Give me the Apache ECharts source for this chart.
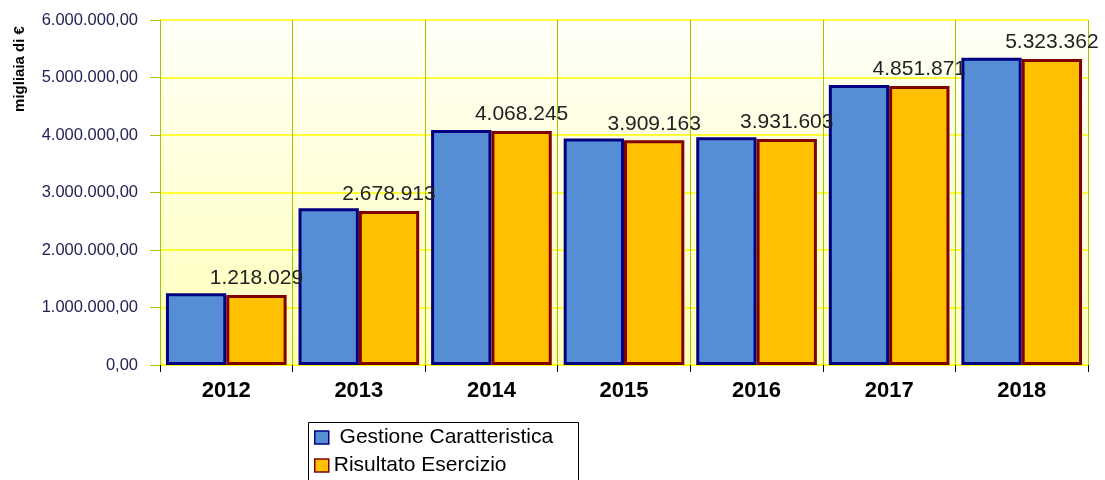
<!DOCTYPE html>
<html lang="it">
<head>
    <meta charset="UTF-8">
    <title>Gestione Caratteristica / Risultato Esercizio</title>
    <script src="https://cdn.jsdelivr.net/npm/echarts@6/dist/echarts.min.js"></script>
    <style>
        body { margin: 0; padding: 0; background: #fff; }
        #chart { width: 1105px; height: 480px; }
    </style>
</head>
<body>
    <div id="chart"></div>
    <script>
        // dati
        const anni = ['2012', '2013', '2014', '2015', '2016', '2017', '2018'];
        const gestione = [1248000, 2726000, 4085000, 3940000, 3960000, 4870000, 5345000];
        const risultato = [1218029, 2678913, 4068245, 3909163, 3931603, 4851871, 5323362];
        const nomiSerie = ['Gestione Caratteristica', 'Risultato Esercizio'];

        // formato italiano: 1.234.567
        function migliaia(v) {
            return String(Math.round(v)).replace(/\B(?=(\d{3})+(?!\d))/g, '.');
        }

        const chart = echarts.init(document.getElementById('chart'));
        const font = 'Liberation Sans, Arial, sans-serif';

        const option = {
            backgroundColor: '#fff',
            animation: false,
            textStyle: { fontFamily: font },
            grid: {
                left: 160, right: 17, top: 20, bottom: 115,
                show: true,
                borderWidth: 0,
                backgroundColor: new echarts.graphic.LinearGradient(0, 0, 0, 1, [
                    { offset: 0, color: '#fffff8' },
                    { offset: 1, color: '#ffffb8' }
                ])
            },
            graphic: [
                {
                    type: 'text',
                    x: 20, y: 69,
                    rotation: Math.PI / 2,
                    style: {
                        text: 'migliaia di €',
                        font: 'bold 15px ' + font,
                        fill: '#000',
                        align: 'center',
                        verticalAlign: 'middle'
                    }
                },
                {
                    type: 'rect',
                    shape: { x: 308.5, y: 422.5, width: 270, height: 70 },
                    style: { fill: '#fff', stroke: '#000', lineWidth: 1 },
                    z: 0
                }
            ],
            legend: {
                orient: 'vertical',
                left: 308,
                top: 422,
                height: 58,
                padding: [4, 6, 0, 6],
                itemWidth: 14,
                itemHeight: 13,
                itemGap: 5,
                icon: 'rect',
                itemStyle: { borderWidth: 1.5 },
                z: 5,
                formatter: function (name) {
                    return name === nomiSerie[0] ? ' ' + name : name;
                },
                textStyle: { fontSize: 21, color: '#000', lineHeight: 23 },
                data: nomiSerie
            },
            xAxis: {
                type: 'category',
                data: anni,
                axisLine: { show: true, lineStyle: { color: '#ffff00', width: 1.5 } },
                axisTick: { show: true, length: 7, lineStyle: { color: '#000' } },
                axisLabel: { fontSize: 22, fontWeight: 'bold', color: '#000', margin: 15 },
                splitLine: { show: true, lineStyle: { color: '#99cc00', width: 1 } }
            },
            yAxis: {
                type: 'value',
                min: 0,
                max: 6000000,
                interval: 1000000,
                axisLine: { show: true, lineStyle: { color: '#99cc00' } },
                axisTick: { show: true, length: 10, lineStyle: { color: '#99cc00' } },
                axisLabel: {
                    fontSize: 16.5,
                    color: '#222255',
                    margin: 22,
                    formatter: function (v) { return migliaia(v) + ',00'; }
                },
                splitLine: { show: true, lineStyle: { color: '#ffff00', width: 1.5 } }
            },
            series: [
                {
                    name: nomiSerie[0],
                    type: 'bar',
                    data: gestione,
                    barGap: '0%',
                    barCategoryGap: '9%',
                    itemStyle: { color: '#558ed5', borderColor: '#000080', borderWidth: 3 }
                },
                {
                    name: nomiSerie[1],
                    type: 'bar',
                    data: risultato,
                    itemStyle: { color: '#ffc000', borderColor: '#800000', borderWidth: 3 },
                    label: {
                        show: true,
                        position: 'top',
                        distance: 6,
                        fontSize: 21,
                        color: '#222',
                        formatter: function (p) { return migliaia(p.value); }
                    }
                }
            ]
        };

        chart.setOption(option);
    </script>
</body>
</html>
